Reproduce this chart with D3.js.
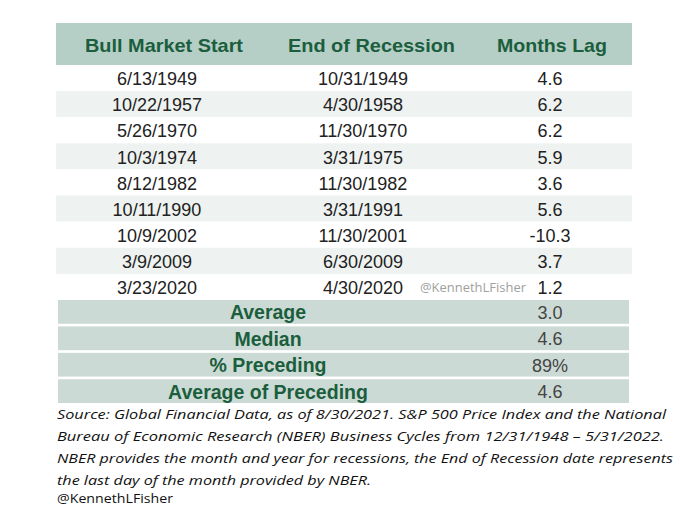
<!DOCTYPE html>
<html><head><meta charset="utf-8">
<script src="https://cdn.jsdelivr.net/npm/d3@7"></script>
<style>html,body{margin:0;padding:0;background:#fff;}svg{display:block;}</style>
</head><body>
<script>
const headers = ["Bull Market Start", "End of Recession", "Months Lag"];
const bullStart = ["6/13/1949","10/22/1957","5/26/1970","10/3/1974","8/12/1982","10/11/1990","10/9/2002","3/9/2009","3/23/2020"];
const recessionEnd = ["10/31/1949","4/30/1958","11/30/1970","3/31/1975","11/30/1982","3/31/1991","11/30/2001","6/30/2009","4/30/2020"];
const monthsLag = ["4.6","6.2","6.2","5.9","3.6","5.6","-10.3","3.7","1.2"];
const summaryLabels = ["Average","Median","% Preceding","Average of Preceding"];
const summaryValues = ["3.0","4.6","89%","4.6"];
const footnote = [
  "Source: Global Financial Data, as of 8/30/2021. S&P 500 Price Index and the National",
  "Bureau of Economic Research (NBER) Business Cycles from 12/31/1948 \u2013 5/31/2022.",
  "NBER provides the month and year for recessions, the End of Recession date represents",
  "the last day of the month provided by NBER."
];
const credit = "@KennethLFisher";

const W = 680, H = 509;
const svg = d3.select("body").append("svg").attr("width", W).attr("height", H);
const left = 56, right = 632;
const ARIAL = "'Liberation Sans', Arial, sans-serif";

// header
svg.append("rect").attr("x", left).attr("y", 23).attr("width", right-left).attr("height", 42).attr("fill", "#b5cec6");
const hx = [85, 288, 497];
const hw = [158, 167, 110];
svg.selectAll("text.h").data(headers).join("text")
  .attr("x", (d,i)=>hx[i]).attr("y", 44).attr("dy", "0.4em")
  .attr("font-family", ARIAL).attr("font-weight","bold").attr("font-size", 19)
  .attr("textLength", (d,i)=>hw[i]).attr("lengthAdjust","spacingAndGlyphs")
  .attr("fill","#1b5e3d").text(d=>d);

// data rows
const rowIdx = d3.range(bullStart.length);
const y = d3.scaleBand().domain(rowIdx).range([65, 300]).paddingInner(0);
svg.selectAll("rect.row").data(rowIdx).join("rect")
  .attr("x", left).attr("y", d=>y(d)).attr("width", right-left).attr("height", y.bandwidth())
  .attr("fill", d => d%2===1 ? "#eef2f0" : "#ffffff");
const colX = [157, 363, 550];
const cols = [bullStart, recessionEnd, monthsLag];
cols.forEach((arr, ci) => {
  svg.selectAll("text.c"+ci).data(arr).join("text")
    .attr("x", colX[ci]).attr("y", (d,i)=>y(i)+y.bandwidth()/2).attr("dy","0.4em")
    .attr("text-anchor","middle").attr("font-family", ARIAL)
    .attr("font-size", 18).attr("fill","#222").text(d=>d);
});
// watermark
svg.append("text").attr("x", 420).attr("y", y(8)+y.bandwidth()/2).attr("dy","0.4em")
  .attr("font-family","'Open Sans', sans-serif").attr("font-size", 13).attr("fill","#a0a0a0")
  .attr("textLength", 106).attr("lengthAdjust","spacingAndGlyphs").text(credit);

// summary rows
const sIdx = d3.range(summaryLabels.length);
const ys = d3.scaleBand().domain(sIdx).range([300, 403]).paddingInner(0.1).paddingOuter(0);
svg.selectAll("rect.s").data(sIdx).join("rect")
  .attr("x", 58).attr("y", d=>ys(d)).attr("width", 629-58).attr("height", ys.bandwidth())
  .attr("fill", "#ccdad5");
svg.selectAll("text.sl").data(summaryLabels).join("text")
  .attr("x", 268).attr("y", (d,i)=>ys(i)+ys.bandwidth()/2).attr("dy","0.38em")
  .attr("text-anchor","middle").attr("font-family", ARIAL)
  .attr("font-weight","bold").attr("font-size", 19.5).attr("fill","#1b5e3d").text(d=>d);
svg.selectAll("text.sv").data(summaryValues).join("text")
  .attr("x", 550).attr("y", (d,i)=>ys(i)+ys.bandwidth()/2).attr("dy","0.38em")
  .attr("text-anchor","middle").attr("font-family", ARIAL)
  .attr("font-size", 18).attr("fill","#444").text(d=>d);

// footnote
const fw = [609, 607, 616, 314];
svg.selectAll("text.f").data(footnote).join("text")
  .attr("x", 57).attr("y", (d,i)=>418.5 + i*22.2)
  .attr("font-family","'Open Sans', sans-serif").attr("font-style","italic")
  .attr("font-size", 13.5).attr("fill","#111")
  .attr("textLength", (d,i)=>fw[i]).attr("lengthAdjust","spacingAndGlyphs").text(d=>d);
svg.append("text").attr("x", 57).attr("y", 503)
  .attr("font-family","'Open Sans', sans-serif").attr("font-size", 13).attr("fill","#111")
  .attr("textLength", 116).attr("lengthAdjust","spacingAndGlyphs").text(credit);
</script>
</body></html>
